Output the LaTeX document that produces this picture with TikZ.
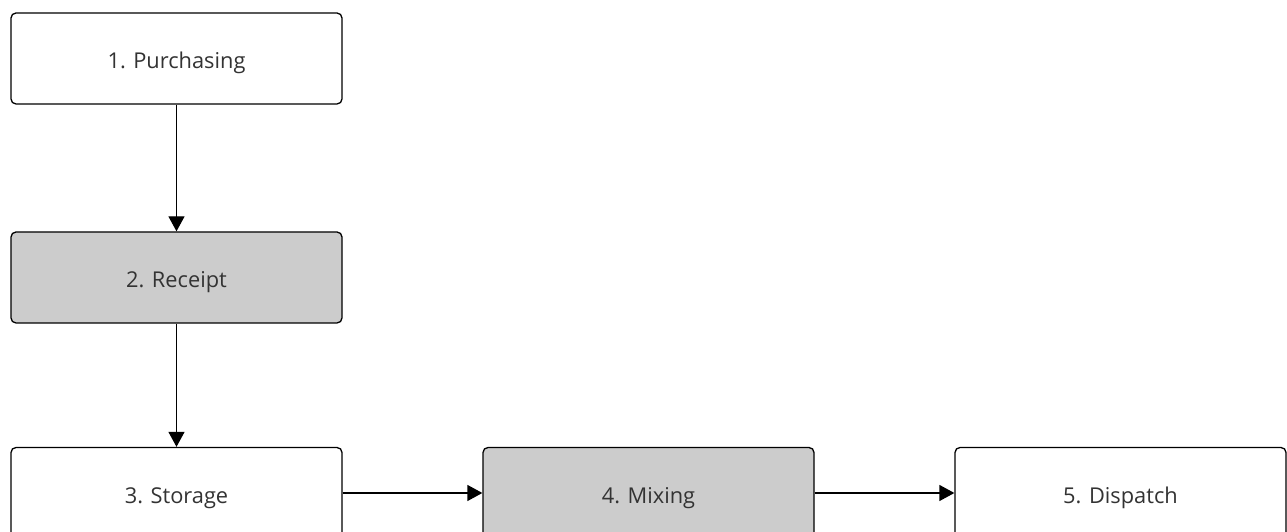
\documentclass[tikz,border=0pt]{standalone}
\usepackage{fontspec}
\setmainfont{Open Sans}
\usetikzlibrary{arrows.meta}
\definecolor{txt}{HTML}{333333}
\definecolor{boxgray}{HTML}{CCCCCC}
\tikzset{
  box/.style={draw=black, line width=1.3pt, rounded corners=5pt, minimum width=331pt, minimum height=91pt, inner sep=0pt, text height=21pt, text depth=0pt, text=txt, font=\fontsize{21.8}{25}\selectfont, fill=white},
  graybox/.style={box, fill=boxgray},
  conn/.style={line width=1.3pt, -{Triangle[width=16pt,length=15pt]}}
}
\begin{document}
\begin{tikzpicture}[x=1pt,y=1pt]
\useasboundingbox (0,0) rectangle (1287,532);
\node[box] (p) at (176.5,473.5) {1. Purchasing};
\node[graybox] (r) at (176.5,254.5) {2. Receipt};
\node[box] (s) at (176.5,39) {3. Storage};
\node[graybox] (m) at (648.5,39) {4. Mixing};
\node[box] (d) at (1120.5,39) {5. Dispatch};
\draw[conn] (p) -- (r);
\draw[conn] (r) -- (s);
\draw[conn] (s) -- (m);
\draw[conn] (m) -- (d);
\end{tikzpicture}
\end{document}
